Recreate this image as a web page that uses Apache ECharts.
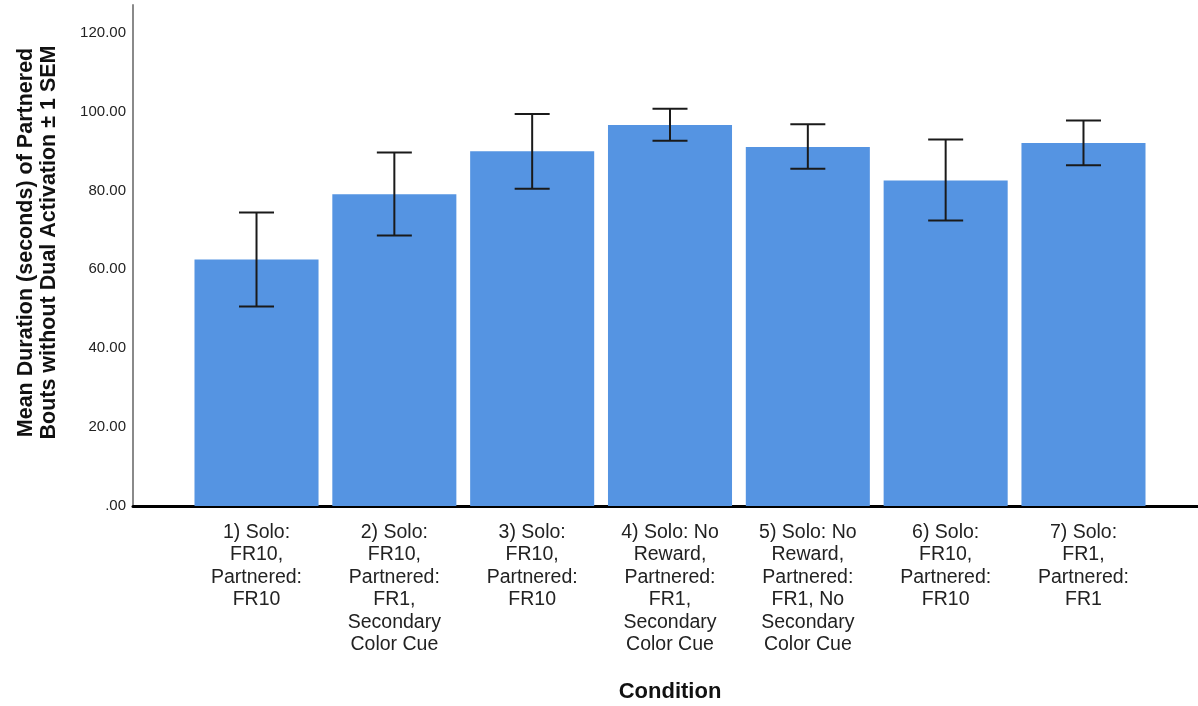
<!DOCTYPE html>
<html>
<head>
<meta charset="utf-8">
<script src="https://cdn.jsdelivr.net/npm/echarts@6/dist/echarts.min.js"></script>
<style>
  html, body { margin: 0; padding: 0; background: #ffffff; }
  #chart { width: 1198px; height: 706px; }
</style>
</head>
<body>
<div id="chart"></div>
<script>
// Conditions on the x axis (wrapped over several lines)
const categories = [
  '1) Solo:\nFR10,\nPartnered:\nFR10',
  '2) Solo:\nFR10,\nPartnered:\nFR1,\nSecondary\nColor Cue',
  '3) Solo:\nFR10,\nPartnered:\nFR10',
  '4) Solo: No\nReward,\nPartnered:\nFR1,\nSecondary\nColor Cue',
  '5) Solo: No\nReward,\nPartnered:\nFR1, No\nSecondary\nColor Cue',
  '6) Solo:\nFR10,\nPartnered:\nFR10',
  '7) Solo:\nFR1,\nPartnered:\nFR1'
];
// Mean duration (seconds) per condition
const meanDuration = [62.5, 79.0, 89.9, 96.6, 91.0, 82.5, 92.0];
// Mean ± 1 SEM
const semUpper = [74.4, 89.6, 99.4, 100.7, 96.8, 92.9, 97.7];
const semLower = [50.6, 68.6, 80.4, 92.6, 85.5, 72.4, 86.4];
// Value axis range and step
const yMin = 0;
const yMax = 127;
const yStep = 20;

const FONT = '"Liberation Sans", Arial, sans-serif';

const chart = echarts.init(document.getElementById('chart'), null, { renderer: 'canvas' });

const errorData = categories.map((c, i) => [i, semUpper[i], semLower[i]]);

chart.setOption({
  animation: false,
  backgroundColor: '#ffffff',
  grid: [
    // bars
    { left: 187.6, right: 45.6, top: 5, bottom: 200, outerBoundsMode: 'none', containLabel: false },
    // frame axes
    { left: 133, right: 0, top: 5, bottom: 200, outerBoundsMode: 'none', containLabel: false }
  ],
  xAxis: [
    {
      type: 'category',
      gridIndex: 0,
      data: categories,
      axisLine: { show: false },
      axisTick: { show: false },
      axisLabel: {
        interval: 0,
        margin: 15,
        color: '#222',
        fontFamily: FONT,
        fontSize: 19.5,
        lineHeight: 22.5,
        align: 'center'
      },
      name: 'Condition',
      nameLocation: 'middle',
      nameGap: 175,
      nameTextStyle: { color: '#111', fontFamily: FONT, fontSize: 22, fontWeight: 'bold' }
    },
    {
      type: 'value',
      gridIndex: 1,
      min: 0,
      max: 1,
      axisLine: { show: true, lineStyle: { color: '#000', width: 3 } },
      axisTick: { show: false },
      axisLabel: { show: false },
      splitLine: { show: false }
    }
  ],
  yAxis: [
    {
      type: 'value',
      gridIndex: 0,
      min: yMin,
      max: yMax,
      show: false,
      splitLine: { show: false }
    },
    {
      type: 'value',
      gridIndex: 1,
      min: yMin,
      max: yMax,
      interval: yStep,
      axisLine: { show: true, lineStyle: { color: '#8a8a8a', width: 2 } },
      axisTick: { show: false },
      splitLine: { show: false },
      axisLabel: {
        margin: 7,
        color: '#222',
        fontFamily: FONT,
        fontSize: 15,
        showMaxLabel: false,
        formatter: v => (v === 0 ? '.00' : v.toFixed(2))
      },
      name: 'Mean Duration (seconds) of Partnered\nBouts without Dual Activation ± 1 SEM',
      nameLocation: 'middle',
      nameRotate: 90,
      nameGap: 72,
      nameTextStyle: {
        color: '#111', fontFamily: FONT, fontSize: 21.5, fontWeight: 'bold', lineHeight: 23.5,
        padding: [0, 0, 0, 26]
      }
    }
  ],
  series: [
    {
      type: 'bar',
      xAxisIndex: 0,
      yAxisIndex: 0,
      data: meanDuration,
      barWidth: '90%',
      itemStyle: { color: '#5594e2' },
      z: 2
    },
    {
      type: 'custom',
      xAxisIndex: 0,
      yAxisIndex: 0,
      data: errorData,
      encode: { x: 0, y: [1, 2] },
      z: 5,
      renderItem: function (params, api) {
        const idx = api.value(0);
        const top = api.coord([idx, api.value(1)]);
        const bot = api.coord([idx, api.value(2)]);
        const half = 17.5;
        const style = { stroke: '#1a1a1a', lineWidth: 2 };
        return {
          type: 'group',
          children: [
            { type: 'line', shape: { x1: top[0], y1: top[1], x2: bot[0], y2: bot[1] }, style: style },
            { type: 'line', shape: { x1: top[0] - half, y1: top[1], x2: top[0] + half, y2: top[1] }, style: style },
            { type: 'line', shape: { x1: bot[0] - half, y1: bot[1], x2: bot[0] + half, y2: bot[1] }, style: style }
          ]
        };
      }
    }
  ]
});
</script>
</body>
</html>
